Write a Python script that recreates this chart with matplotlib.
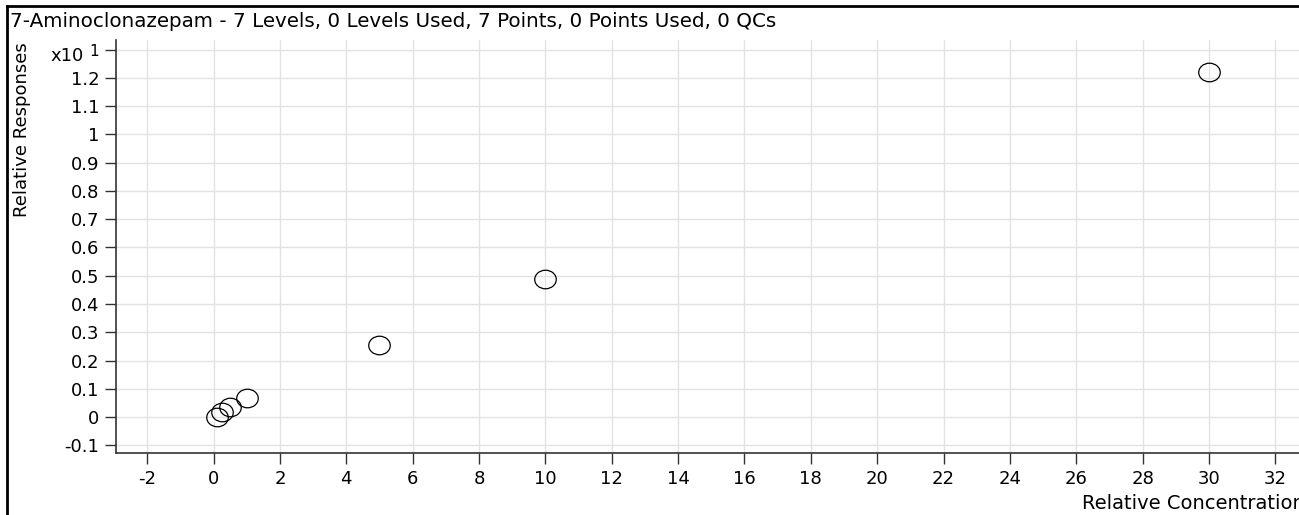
import numpy as np
import matplotlib
matplotlib.use("Agg")
import matplotlib.pyplot as plt
from matplotlib.path import Path
from matplotlib.markers import MarkerStyle
from matplotlib.lines import Line2D
from matplotlib.transforms import Affine2D

plt.rcParams['font.family'] = ['DejaVu Sans']

title = "7-Aminoclonazepam - 7 Levels, 0 Levels Used, 7 Points, 0 Points Used, 0 QCs"
conc = [0.1, 0.25, 0.5, 1, 5, 10, 30]
resp = [0.001, 0.018, 0.035, 0.066, 0.255, 0.489, 1.221]   # x10^1
xticks = list(range(-2, 33, 2))
yticks = [-0.1, 0, 0.1, 0.2, 0.3, 0.4, 0.5, 0.6, 0.7, 0.8, 0.9, 1, 1.1, 1.2, 1.3]
ytick_labels = ['-0.1', '0', '0.1', '0.2', '0.3', '0.4', '0.5', '0.6', '0.7', '0.8',
                '0.9', '1', '1.1', '1.2', '1']

fig = plt.figure(figsize=(12.99, 5.15), dpi=100)
ax = fig.add_axes([116 / 1299, 62 / 515, 1183 / 1299, 413 / 515])

# slightly wide ellipse marker like the original software
ell = Path.unit_circle().transformed(Affine2D().scale(1.16, 1.0))
ax.plot(conc, resp, linestyle='none', marker=MarkerStyle(ell), markersize=15.5,
        markerfacecolor='none', markeredgecolor='black', markeredgewidth=0.9, clip_on=False)

ax.set_xlim(-2.94, 32.71)
ax.set_ylim(-0.127, 1.334)
ax.set_xticks(xticks)
ax.set_xticklabels([str(t) for t in xticks])
ax.set_yticks(yticks)
ax.set_yticklabels(ytick_labels)
ax.tick_params(axis='both', direction='out', length=8, width=1, color='#333333',
               labelsize=13, pad=4)
ax.get_yticklabels()[-1].set_fontsize(11)
ax.grid(True, color='#e2e2e2', linewidth=1)
ax.set_axisbelow(True)
for s in ['top', 'right']:
    ax.spines[s].set_visible(False)
for s in ['left', 'bottom']:
    ax.spines[s].set_color('#333333')
    ax.spines[s].set_linewidth(1.2)

ax.set_ylabel("Relative Responses", fontsize=13)
ax.yaxis.set_label_coords(-0.072, 0.782)
fig.text(50 / 1299, 1 - 61 / 515, "x10", fontsize=13, ha='left', va='baseline')
fig.text(1082 / 1299, 1 - 509 / 515, "Relative Concentration", fontsize=14,
         ha='left', va='baseline')
fig.text(10 / 1299, 1 - 27 / 515, title, fontsize=14.3, ha='left', va='baseline')

# outer frame lines
fig.add_artist(Line2D([7 / 1299, 7 / 1299], [0, 1 - 5.5 / 515], color='black', linewidth=2))
fig.add_artist(Line2D([7 / 1299, 1], [1 - 5.5 / 515, 1 - 5.5 / 515], color='black', linewidth=2))

fig.savefig("out.png", dpi=100)
